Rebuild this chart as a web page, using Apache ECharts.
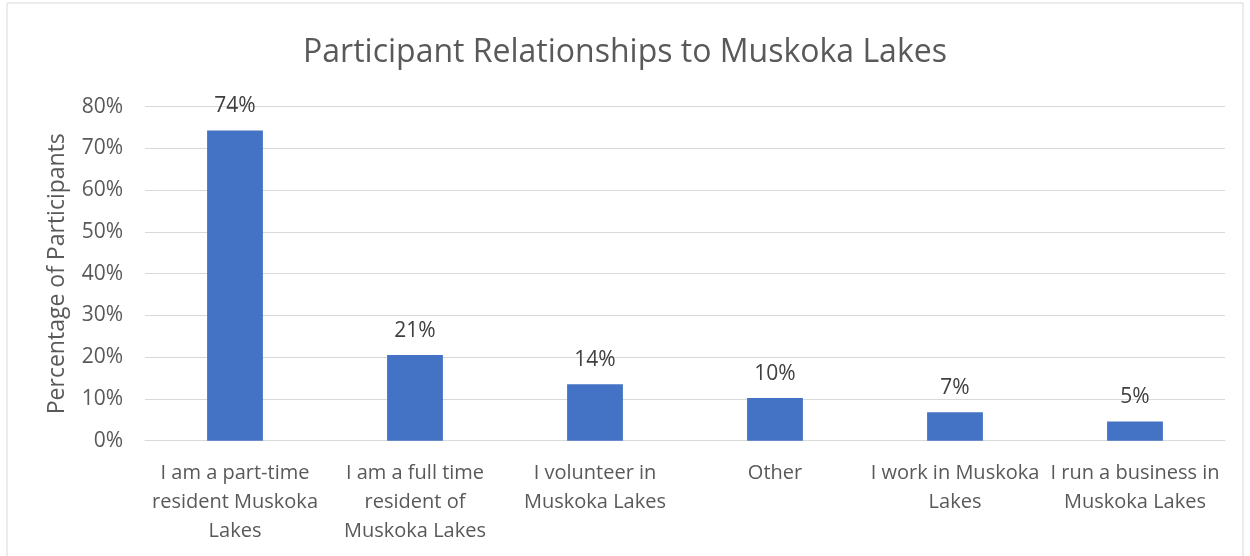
<!DOCTYPE html>
<html><head><meta charset="utf-8">
<script src="https://cdn.jsdelivr.net/npm/echarts@6/dist/echarts.min.js"></script>
<style>html,body{margin:0;padding:0;background:#fff}#c{width:1250px;height:556px}</style>
</head><body><div id="c"></div>
<script>
const categories = [
  "I am a part-time\nresident Muskoka\nLakes",
  "I am a full time\nresident of\nMuskoka Lakes",
  "I volunteer in\nMuskoka Lakes",
  "Other",
  "I work in Muskoka\nLakes",
  "I run a business in\nMuskoka Lakes"
];
const values = [74.3, 20.5, 13.5, 10.2, 6.8, 4.6];
const yTicks = [0, 10, 20, 30, 40, 50, 60, 70, 80];

const chart = echarts.init(document.getElementById('c'));
const font = "'Open Sans', 'Liberation Sans', sans-serif";
chart.setOption({
  animation: false,
  textStyle: { fontFamily: font },
  title: {
    text: 'Participant Relationships to Muskoka Lakes',
    left: 'center', top: 32,
    textStyle: { fontFamily: font, fontSize: 32, fontWeight: 'normal', color: '#595959' }
  },
  graphic: [{
    type: 'rect', shape: { x: 7, y: 3, width: 1236, height: 560 },
    style: { fill: 'none', stroke: '#d9d9d9', lineWidth: 1 }, silent: true
  }],
  grid: { left: 145, right: 25, top: 106.7, bottom: 115.3, containLabel: false },
  xAxis: {
    type: 'category', data: categories,
    axisLine: { lineStyle: { color: '#d9d9d9', width: 1 } },
    axisTick: { show: false },
    axisLabel: { interval: 0, color: '#595959', fontSize: 20, lineHeight: 29, margin: 18, fontFamily: font }
  },
  yAxis: {
    type: 'value', min: 0, max: 80, interval: 10,
    name: 'Percentage of Participants', nameLocation: 'middle', nameGap: 76, nameRotate: 90,
    nameTextStyle: { color: '#595959', fontSize: 23, fontFamily: font },
    axisLine: { show: false }, axisTick: { show: false },
    splitLine: { lineStyle: { color: '#d9d9d9', width: 1 } },
    axisLabel: { color: '#595959', fontSize: 21, margin: 22, fontFamily: font,
      formatter: v => yTicks.includes(v) ? v + '%' : '' }
  },
  series: [{
    type: 'bar', data: values, barWidth: '31%',
    itemStyle: { color: '#4472c4' },
    label: { show: true, position: 'top', distance: 14, color: '#404040', fontSize: 21, fontFamily: font,
      formatter: p => Math.round(p.value) + '%' }
  }]
});
</script></body></html>
